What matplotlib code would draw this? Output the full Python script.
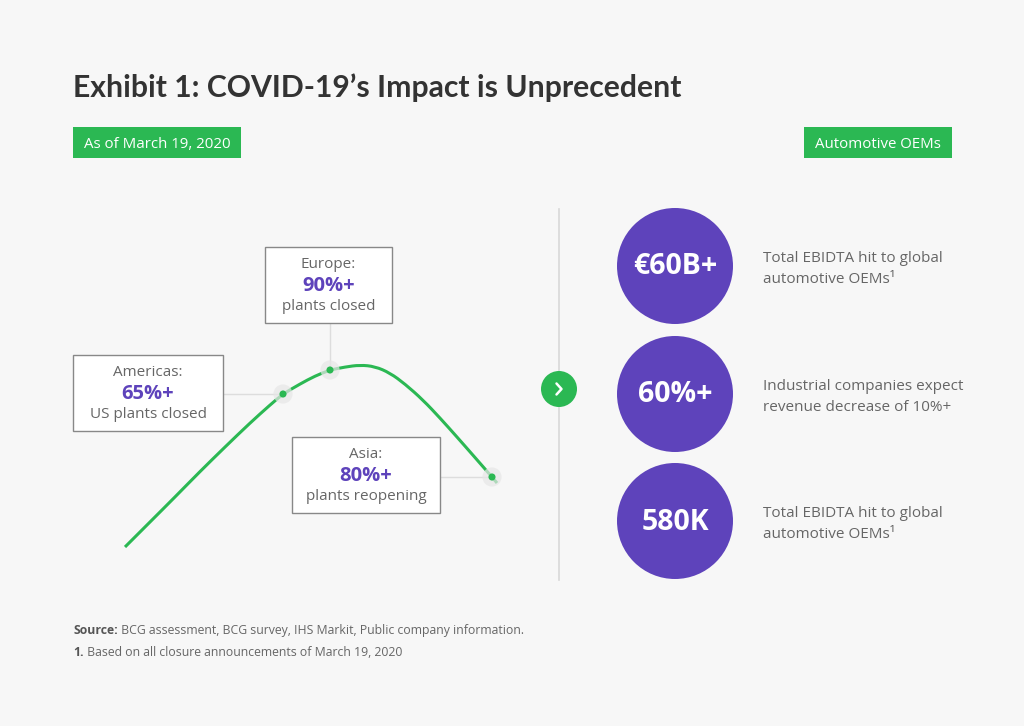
import matplotlib
matplotlib.use("Agg")
import matplotlib.pyplot as plt
from matplotlib.patches import Rectangle, Circle, PathPatch
from matplotlib.path import Path

# ---------------- data ----------------
title = "Exhibit 1: COVID-19\u2019s Impact is Unprecedent"
tag_left = "As of March 19, 2020"
tag_right = "Automotive OEMs"

# conceptual impact curve (time step, impact level)
curve_t = [0, 25, 50, 75, 100, 125, 145, 158, 175, 190, 205, 220, 235, 250,
           265, 280, 298, 315, 332, 350, 367, 372]
curve_v = [0, 25, 50, 75.5, 100, 124, 142, 153, 163, 171, 177, 180, 182, 180.5,
           174, 163, 147, 129, 110, 89.5, 70, 64]

regions = ["Americas:", "Europe:", "Asia:"]
region_values = ["65%+", "90%+", "80%+"]
region_desc = ["US plants closed", "plants closed", "plants reopening"]
region_t = [158, 205, 367]
region_v = [153, 177, 70]

kpi_values = ["\u20ac60B+", "60%+", "580K"]
kpi_desc = ["Total EBIDTA hit to global\nautomotive OEMs\u00b9",
            "Industrial companies expect\nrevenue decrease of 10%+",
            "Total EBIDTA hit to global\nautomotive OEMs\u00b9"]

source_bold = "Source:"
source_text = " BCG assessment, BCG survey, IHS Markit, Public company information."
note_bold = "1."
note_text = " Based on all closure announcements of March 19, 2020"

# ---------------- style ----------------
BG = "#f7f7f7"
GREEN = "#2bb853"
PURPLE = "#5e43bb"
TITLE_C = "#333333"
TEXT_C = "#666666"
BODY = "Open Sans"

W, H = 1024, 726
fig = plt.figure(figsize=(W / 100, H / 100), dpi=100, facecolor=BG)

# layout axes in pixel coordinates
bg = fig.add_axes([0, 0, 1, 1])
bg.set_xlim(0, W)
bg.set_ylim(H, 0)
bg.axis("off")
bg.set_facecolor(BG)

# curve axes
cx0, cx1, cy0, cy1 = 125, 497, 547, 365   # pixel frame of curve area
ac = fig.add_axes([cx0 / W, (H - cy0) / H, (cx1 - cx0) / W, (cy0 - cy1) / H])
ac.set_xlim(0, 372)
ac.set_ylim(0, 182)
ac.axis("off")
ac.patch.set_alpha(0)


def to_px(t, v):
    d = ac.transData.transform((t, v))
    return bg.transData.inverted().transform(d)


# title
bg.text(73, 88, title, family="Lato", weight="bold", fontsize=21.7,
        color=TITLE_C, va="center", ha="left")

# tags
for (x0, x1), txt in zip([(73, 241), (804, 952)], [tag_left, tag_right]):
    bg.add_patch(Rectangle((x0, 127), x1 - x0, 31, facecolor=GREEN, edgecolor="none"))
    bg.text((x0 + x1) / 2, 144.5, txt, family=BODY, fontsize=10.8, color="white",
            ha="center", va="center")

# connectors + boxes
boxes = [(73, 355, 223, 431), (265, 247, 392, 323), (292, 437, 440, 513)]
conn = ["h", "v", "h"]
for i in range(3):
    px, py = to_px(region_t[i], region_v[i])
    x0, y0, x1, y1 = boxes[i]
    if conn[i] == "h":
        bg.plot([x1, px], [py, py], color="#dddddd", lw=1, zorder=1)
    else:
        bg.plot([px, px], [y1, py], color="#dddddd", lw=1, zorder=1)
    bg.add_patch(Rectangle((x0, y0), x1 - x0, y1 - y0, facecolor="white",
                           edgecolor="#888888", lw=1, zorder=3))
    xc = (x0 + x1) / 2
    bg.text(xc, y0 + 17.5, regions[i], family=BODY, fontsize=11, color=TEXT_C,
            ha="center", va="center", zorder=4)
    bg.text(xc, y0 + 39, region_values[i], family=BODY, weight="bold",
            fontsize=14.5, color=PURPLE, ha="center", va="center", zorder=4)
    bg.text(xc, y0 + 60, region_desc[i], family=BODY, fontsize=11, color=TEXT_C,
            ha="center", va="center", zorder=4)

# curve: smooth quadratic path using the read points as control points
pts = list(zip(curve_t, curve_v))
verts = [pts[0]]
codes = [Path.MOVETO]
for i in range(1, len(pts) - 1):
    mid = ((pts[i][0] + pts[i + 1][0]) / 2, (pts[i][1] + pts[i + 1][1]) / 2)
    verts += [pts[i], mid]
    codes += [Path.CURVE3, Path.CURVE3]
verts.append(pts[-1])
codes.append(Path.LINETO)
ac.add_patch(PathPatch(Path(verts, codes), facecolor="none", edgecolor=GREEN,
                       lw=2.2, capstyle="butt", joinstyle="round",
                       clip_on=False, zorder=2))
ac.scatter(region_t, region_v, s=190, color="#e6e6e6", alpha=0.7,
           edgecolors="none", clip_on=False, zorder=3)
ac.scatter(region_t, region_v, s=26, color=GREEN, edgecolors="none",
           clip_on=False, zorder=4)

# divider and arrow button
bg.plot([559, 559], [209, 580], color="#d8d8d8", lw=1.2, zorder=1)
bg.add_patch(Circle((559, 389), 18, facecolor=GREEN, edgecolor="none", zorder=2))
bg.plot([556.5, 561.5, 556.5], [383.5, 389, 394.5], color="white", lw=1.8,
        solid_capstyle="round", solid_joinstyle="round", zorder=3)

# KPI circles
cy = [266, 394, 521]
for i in range(3):
    bg.add_patch(Circle((675, cy[i]), 58, facecolor=PURPLE, edgecolor="none"))
    bg.text(675, cy[i] + 1, kpi_values[i], family=BODY, weight="bold",
            fontsize=20.5, color="white", ha="center", va="center")
    bg.text(763, cy[i] + 3, kpi_desc[i], family=BODY, fontsize=11,
            color=TEXT_C, ha="left", va="center", linespacing=1.6)

# footnotes
for y, b, t in [(630.5, source_bold, source_text), (652.5, note_bold, note_text)]:
    tb = bg.text(73, y, b, family=BODY, weight="bold", fontsize=8.85,
                 color="#555555", ha="left", va="center")
    fig.canvas.draw()
    bb = tb.get_window_extent()
    xe = bg.transData.inverted().transform((bb.x1, 0))[0]
    bg.text(xe, y, t, family=BODY, fontsize=8.85, color="#666666",
            ha="left", va="center")

fig.savefig("out.png", dpi=100, facecolor=BG)
